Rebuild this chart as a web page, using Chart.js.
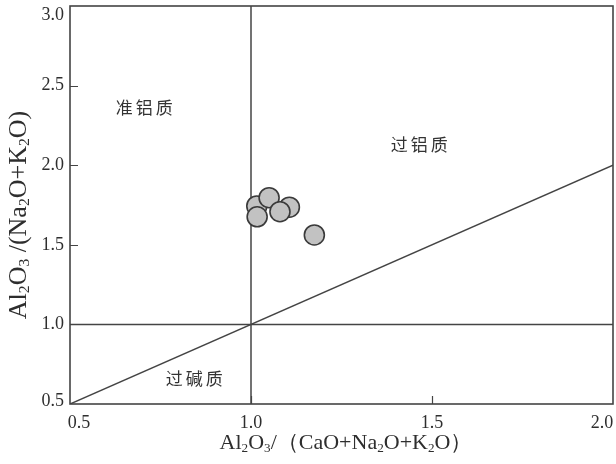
<!DOCTYPE html>
<html>
<head>
<meta charset="utf-8">
<script src="https://cdn.jsdelivr.net/npm/chart.js@4/dist/chart.umd.min.js"></script>
<style>
  html, body { margin: 0; padding: 0; background: #fff; }
  #wrap { width: 616px; height: 464px; }
</style>
</head>
<body>
<div id="wrap"><canvas id="c" width="616" height="464"></canvas></div>
<script>
// Sample values: A/CNK (x) and A/NK (y)
const acnk = [1.016, 1.106, 1.050, 1.080, 1.017, 1.175];
const ank  = [1.744, 1.736, 1.796, 1.708, 1.676, 1.562];

// Axis ranges and tick labels
const xTicks = [0.5, 1.0, 1.5, 2.0];
const yTicks = [0.5, 1.0, 1.5, 2.0, 2.5, 3.0];

// Field boundaries
const boundaryDiagX = [0.5, 2.0];
const boundaryDiagY = [0.5, 2.0];
const boundaryVertX = [1.0, 1.0];
const boundaryVertY = [0.5, 3.0];
const boundaryHorzX = [0.5, 2.0];
const boundaryHorzY = [1.0, 1.0];

// Field names and where they sit (data units)
const fieldNames = ['准铝质', '过铝质', '过碱质'];
const fieldX = [0.705, 1.465, 0.843];
const fieldY = [2.36, 2.13, 0.663];

const zip = (xs, ys) => xs.map((x, i) => ({ x, y: ys[i] }));
const lineColor = '#444';

const lineDs = (xs, ys) => ({
  type: 'line',
  data: zip(xs, ys),
  borderColor: lineColor,
  borderWidth: 1.5,
  pointRadius: 0,
  fill: false,
  tension: 0,
  order: 2
});

// Draws text with subscript segments: parts = [[text, isSub], ...]
const serif = '"Liberation Serif", "Noto Serif", serif';
function richWidth(ctx, parts, size) {
  let w = 0;
  for (const [t, sub] of parts) {
    ctx.font = (sub ? size * 0.6 : size) + 'px ' + serif;
    w += ctx.measureText(t).width;
  }
  return w;
}
function drawRich(ctx, parts, size, x, y) {
  let cx = x;
  for (const [t, sub] of parts) {
    ctx.font = (sub ? size * 0.6 : size) + 'px ' + serif;
    ctx.fillText(t, cx, sub ? y + size * 0.24 : y);
    cx += ctx.measureText(t).width;
  }
}

const xTitle = [['Al', 0], ['2', 1], ['O', 0], ['3', 1], ['/', 0], ['（', 0], ['CaO+Na', 0], ['2', 1], ['O+K', 0], ['2', 1], ['O）', 0]];
const yTitle = [['Al', 0], ['2', 1], ['O', 0], ['3', 1], [' /(Na', 0], ['2', 1], ['O+K', 0], ['2', 1], ['O)', 0]];

const decor = {
  id: 'decor',
  afterDatasetsDraw(chart) {
    const { ctx, chartArea: a, scales: { x, y } } = chart;
    ctx.save();
    // frame
    ctx.strokeStyle = lineColor;
    ctx.lineWidth = 1.6;
    ctx.strokeRect(a.left, a.top, a.right - a.left, a.bottom - a.top);
    // inward tick marks
    ctx.lineWidth = 1.2;
    ctx.beginPath();
    yTicks.forEach(v => {
      if (v === 0.5 || v === 3.0) return;
      const py = Math.round(y.getPixelForValue(v)) + 0.5;
      ctx.moveTo(a.left, py); ctx.lineTo(a.left + 8, py);
    });
    xTicks.forEach(v => {
      if (v === 0.5 || v === 2.0) return;
      const px = Math.round(x.getPixelForValue(v)) + 0.5;
      ctx.moveTo(px, a.bottom); ctx.lineTo(px, a.bottom - 8);
    });
    ctx.stroke();

    // tick labels
    ctx.fillStyle = '#2e2e2e';
    ctx.font = '18px ' + serif;
    ctx.textBaseline = 'middle';
    ctx.textAlign = 'right';
    yTicks.forEach(v => {
      let py = y.getPixelForValue(v);
      if (v === 3.0) py += 9;
      if (v === 0.5) py -= 3;
      ctx.fillText(v.toFixed(1), a.left - 6, py);
    });
    ctx.textAlign = 'center';
    ctx.textBaseline = 'top';
    xTicks.forEach(v => {
      let px = x.getPixelForValue(v);
      if (v === 0.5) px += 9;
      if (v === 2.0) px -= 11;
      ctx.fillText(v.toFixed(1), px, a.bottom + 10);
    });

    // field names
    ctx.font = '17px "Noto Sans CJK SC", sans-serif';
    ctx.letterSpacing = '3px';
    ctx.fillStyle = '#333';
    ctx.textBaseline = 'middle';
    ctx.textAlign = 'center';
    fieldNames.forEach((t, i) => {
      ctx.fillText(t, x.getPixelForValue(fieldX[i]) + 1.5, y.getPixelForValue(fieldY[i]));
    });
    ctx.letterSpacing = '0px';

    // axis titles
    ctx.fillStyle = '#2e2e2e';
    ctx.textAlign = 'left';
    ctx.textBaseline = 'middle';
    const wx = richWidth(ctx, xTitle, 22);
    drawRich(ctx, xTitle, 22, 346 - wx / 2, 443);
    ctx.translate(19, 215);
    ctx.rotate(-Math.PI / 2);
    const wy = richWidth(ctx, yTitle, 26);
    drawRich(ctx, yTitle, 26, -wy / 2, 0);
    ctx.restore();
  }
};

new Chart(document.getElementById('c'), {
  type: 'scatter',
  data: {
    datasets: [
      lineDs(boundaryDiagX, boundaryDiagY),
      lineDs(boundaryVertX, boundaryVertY),
      lineDs(boundaryHorzX, boundaryHorzY),
      {
        type: 'scatter',
        data: zip(acnk, ank),
        backgroundColor: '#c2c2c2',
        borderColor: '#3a3a3a',
        borderWidth: 1.6,
        pointRadius: 10,
        pointHoverRadius: 10,
        order: 1
      }
    ]
  },
  options: {
    responsive: false,
    animation: false,
    events: [],
    layout: { autoPadding: false, padding: { left: 70, right: 3, top: 6, bottom: 60 } },
    plugins: { legend: { display: false }, tooltip: { enabled: false } },
    scales: {
      x: {
        type: 'linear', min: 0.5, max: 2.0,
        grid: { display: false }, border: { display: false },
        ticks: { display: false },
        afterFit(s) { s.height = 0; }
      },
      y: {
        type: 'linear', min: 0.5, max: 3.0,
        grid: { display: false }, border: { display: false },
        ticks: { display: false },
        afterFit(s) { s.width = 0; }
      }
    }
  },
  plugins: [decor]
});
</script>
</body>
</html>
